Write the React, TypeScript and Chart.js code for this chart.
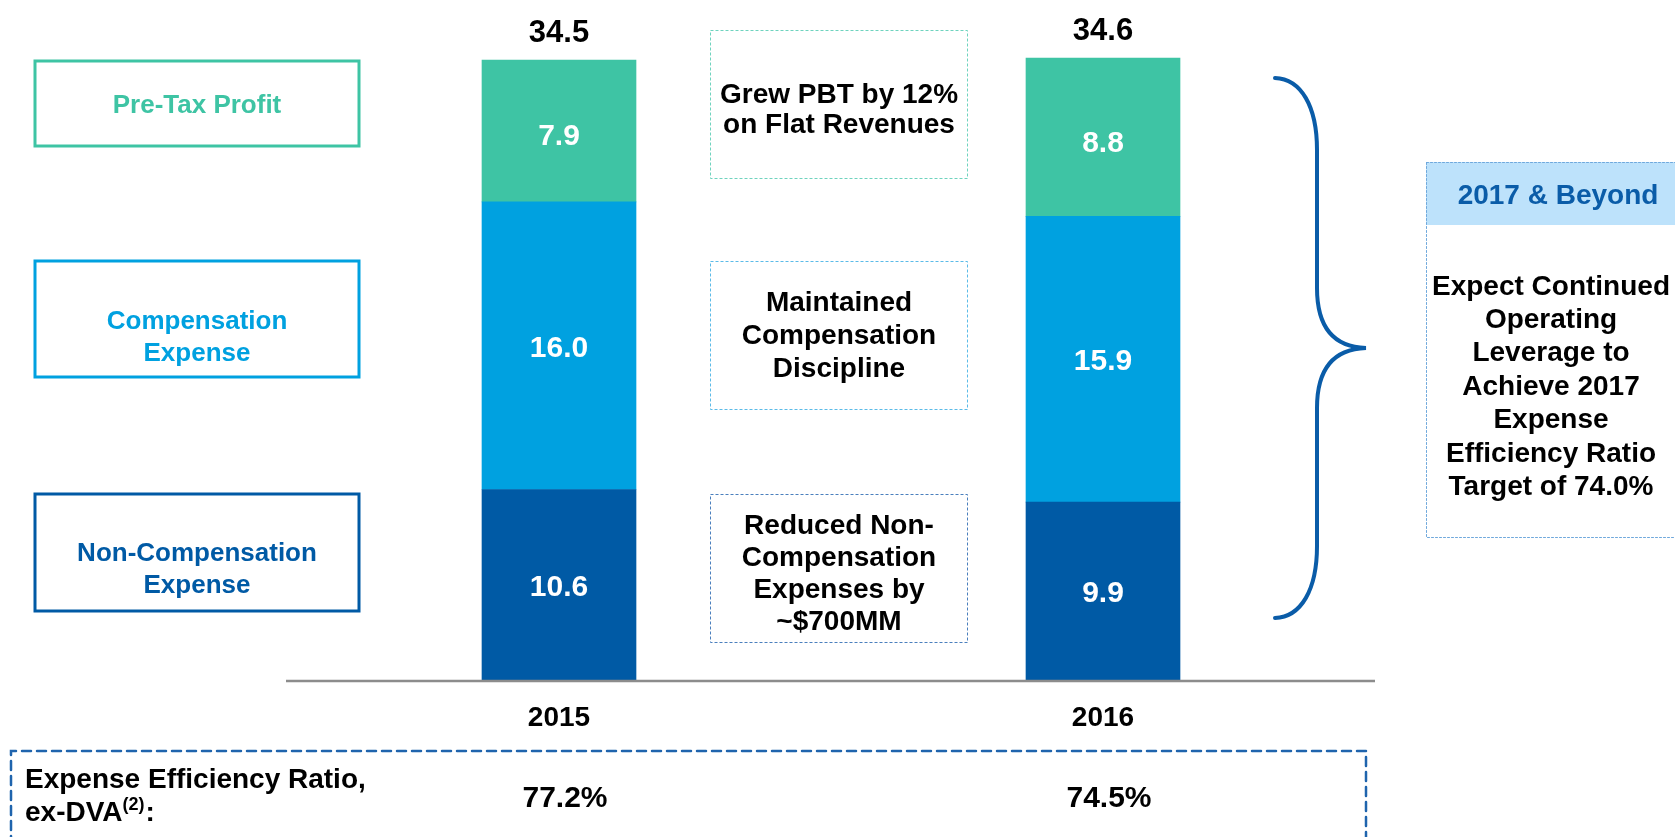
import React, { useEffect, useRef } from "react";
import { Chart, registerables } from "chart.js";

Chart.register(...registerables);

// ---- data ----
const years = ["2015", "2016"];
const nonCompExpense = [10.6, 9.9];
const compExpense = [16.0, 15.9];
const preTaxProfit = [7.9, 8.8];
const totals = [34.5, 34.6];
const efficiencyRatio = ["77.2%", "74.5%"];
const seriesLabels = [
  ["Non-Compensation", "Expense"],
  ["Compensation", "Expense"],
  ["Pre-Tax Profit"],
];
const annotations = [
  ["Grew PBT by 12%", "on Flat Revenues"],
  ["Maintained", "Compensation", "Discipline"],
  ["Reduced Non-", "Compensation", "Expenses by", "~$700MM"],
];
const outlookTitle = "2017 & Beyond";
const outlookLines = [
  "Expect Continued",
  "Operating",
  "Leverage to",
  "Achieve 2017",
  "Expense",
  "Efficiency Ratio",
  "Target of 74.0%",
];
const ratioLabel = ["Expense Efficiency Ratio,", "ex-DVA", "(2)", ":"];

const COLORS = ["#005AA5", "#00A1E0", "#3EC4A4"];
const ANNOT_BORDER = ["#6ED3BE", "#5BBBE8", "#4A7FBD"];
const FONT = '"Liberation Sans", Arial, Helvetica, sans-serif';

function lines(ctx: CanvasRenderingContext2D, arr: string[], cx: number, cy: number, lh: number) {
  const start = cy - ((arr.length - 1) * lh) / 2;
  arr.forEach((t, i) => ctx.fillText(t, cx, start + i * lh));
}

const overlay = {
  id: "overlay",
  afterDatasetsDraw(chart: any) {
    const ctx: CanvasRenderingContext2D = chart.ctx;
    const xs = chart.scales.x;
    const ys = chart.scales.y;
    const area = chart.chartArea;
    ctx.save();

    // baseline
    ctx.strokeStyle = "#8C8C8C";
    ctx.lineWidth = 2.5;
    ctx.beginPath();
    ctx.moveTo(area.left - 1, area.bottom + 1);
    ctx.lineTo(area.right, area.bottom + 1);
    ctx.stroke();

    // segment labels
    ctx.textAlign = "center";
    ctx.textBaseline = "middle";
    ctx.fillStyle = "#FFFFFF";
    ctx.font = `bold 30px ${FONT}`;
    chart.data.datasets.forEach((ds: any, i: number) => {
      const meta = chart.getDatasetMeta(i);
      const shift = i === 2 ? 6 : 3;
      meta.data.forEach((bar: any, j: number) => {
        ctx.fillText(ds.data[j].toFixed(1), bar.x, (bar.y + bar.base) / 2 + shift);
      });
    });

    // totals
    ctx.fillStyle = "#000000";
    ctx.font = `bold 31px ${FONT}`;
    ctx.textBaseline = "alphabetic";
    totals.forEach((t, j) => {
      ctx.fillText(t.toFixed(1), xs.getPixelForValue(j), ys.getPixelForValue(t) - 18);
    });

    // year labels
    ctx.font = `bold 28px ${FONT}`;
    years.forEach((y, j) => {
      ctx.fillText(y, xs.getPixelForValue(j), area.bottom + 46);
    });

    // legend boxes on left
    const legendBoxes = [
      { top: 494, bottom: 611, ty: 570 },
      { top: 261, bottom: 377, ty: 338 },
      { top: 61, bottom: 146, ty: 106 },
    ];
    ctx.lineWidth = 3;
    ctx.setLineDash([]);
    legendBoxes.forEach((b, i) => {
      ctx.strokeStyle = COLORS[i];
      ctx.strokeRect(35, b.top, 324, b.bottom - b.top);
      ctx.fillStyle = COLORS[i];
      ctx.font = `bold 26px ${FONT}`;
      ctx.textBaseline = "middle";
      lines(ctx, seriesLabels[i], 197, b.ty, 32);
    });

    // annotation boxes (middle)
    const annBoxes = [
      { top: 30, bottom: 178, cy: 110, lh: 30 },
      { top: 261, bottom: 409, cy: 336, lh: 33 },
      { top: 494, bottom: 642, cy: 574, lh: 32 },
    ];
    ctx.lineWidth = 1;
    ctx.setLineDash([3, 2]);
    annBoxes.forEach((b, i) => {
      ctx.strokeStyle = ANNOT_BORDER[i];
      ctx.strokeRect(710.5, b.top + 0.5, 257, b.bottom - b.top);
      ctx.fillStyle = "#000000";
      ctx.font = `bold 28px ${FONT}`;
      ctx.textBaseline = "middle";
      lines(ctx, annotations[i], 839, b.cy, b.lh);
    });

    // brace
    ctx.setLineDash([]);
    ctx.strokeStyle = "#0A5CA8";
    ctx.lineWidth = 4;
    ctx.lineCap = "round";
    ctx.beginPath();
    ctx.moveTo(1275, 78);
    ctx.bezierCurveTo(1301, 79, 1317, 106, 1317, 150);
    ctx.lineTo(1317, 288);
    ctx.bezierCurveTo(1317, 328, 1334, 347, 1366, 348);
    ctx.bezierCurveTo(1334, 349, 1317, 368, 1317, 408);
    ctx.lineTo(1317, 546);
    ctx.bezierCurveTo(1317, 590, 1301, 617, 1275, 618);
    ctx.stroke();

    // outlook box
    ctx.fillStyle = "#BDE2FB";
    ctx.fillRect(1426, 162, 260, 63);
    ctx.lineWidth = 1;
    ctx.setLineDash([2, 2]);
    ctx.strokeStyle = "#6FA8DC";
    ctx.strokeRect(1426.5, 162.5, 260, 375);
    ctx.fillStyle = "#0A5CA8";
    ctx.font = `bold 28px ${FONT}`;
    ctx.textBaseline = "middle";
    ctx.fillText(outlookTitle, 1558, 196);
    ctx.fillStyle = "#000000";
    lines(ctx, outlookLines, 1551, 387, 33.4);

    // bottom dashed box
    ctx.setLineDash([9, 6]);
    ctx.lineWidth = 2.5;
    ctx.strokeStyle = "#1F64AD";
    ctx.beginPath();
    ctx.moveTo(11, 860);
    ctx.lineTo(11, 751);
    ctx.lineTo(1366, 751);
    ctx.lineTo(1366, 860);
    ctx.stroke();
    ctx.setLineDash([]);

    ctx.fillStyle = "#000000";
    ctx.textAlign = "left";
    ctx.textBaseline = "alphabetic";
    ctx.font = `bold 28px ${FONT}`;
    ctx.fillText(ratioLabel[0], 25, 788);
    ctx.fillText(ratioLabel[1], 25, 821);
    let w = ctx.measureText(ratioLabel[1]).width;
    ctx.font = `bold 18px ${FONT}`;
    ctx.fillText(ratioLabel[2], 25 + w, 810);
    w += ctx.measureText(ratioLabel[2]).width;
    ctx.font = `bold 28px ${FONT}`;
    ctx.fillText(ratioLabel[3], 25 + w + 1, 821);

    ctx.textAlign = "center";
    ctx.font = `bold 30px ${FONT}`;
    efficiencyRatio.forEach((r, j) => {
      ctx.fillText(r, xs.getPixelForValue(j) + 6, 807);
    });

    ctx.restore();
  },
};

export default function App() {
  const ref = useRef<HTMLCanvasElement>(null);
  useEffect(() => {
    if (!ref.current) return;
    const chart = new Chart(ref.current, {
      type: "bar",
      data: {
        labels: years,
        datasets: [
          { label: "Non-Compensation Expense", data: nonCompExpense, backgroundColor: COLORS[0] },
          { label: "Compensation Expense", data: compExpense, backgroundColor: COLORS[1] },
          { label: "Pre-Tax Profit", data: preTaxProfit, backgroundColor: COLORS[2] },
        ],
      },
      options: {
        responsive: false,
        animation: false,
        devicePixelRatio: 1,
        layout: { padding: { left: 287, right: 300, top: 33, bottom: 157 } },
        datasets: { bar: { barThickness: 154, borderWidth: 0 } },
        plugins: { legend: { display: false }, tooltip: { enabled: false }, title: { display: false } },
        scales: {
          x: { display: false, stacked: true },
          y: { display: false, stacked: true, min: 0, max: 36 },
        },
      },
      plugins: [overlay],
    });
    return () => chart.destroy();
  }, []);
  return (
    <div style={{ position: "absolute", left: 0, top: 0, width: 1675, height: 837, background: "#fff" }}>
      <canvas ref={ref} width={1675} height={837} style={{ display: "block" }} />
    </div>
  );
}
